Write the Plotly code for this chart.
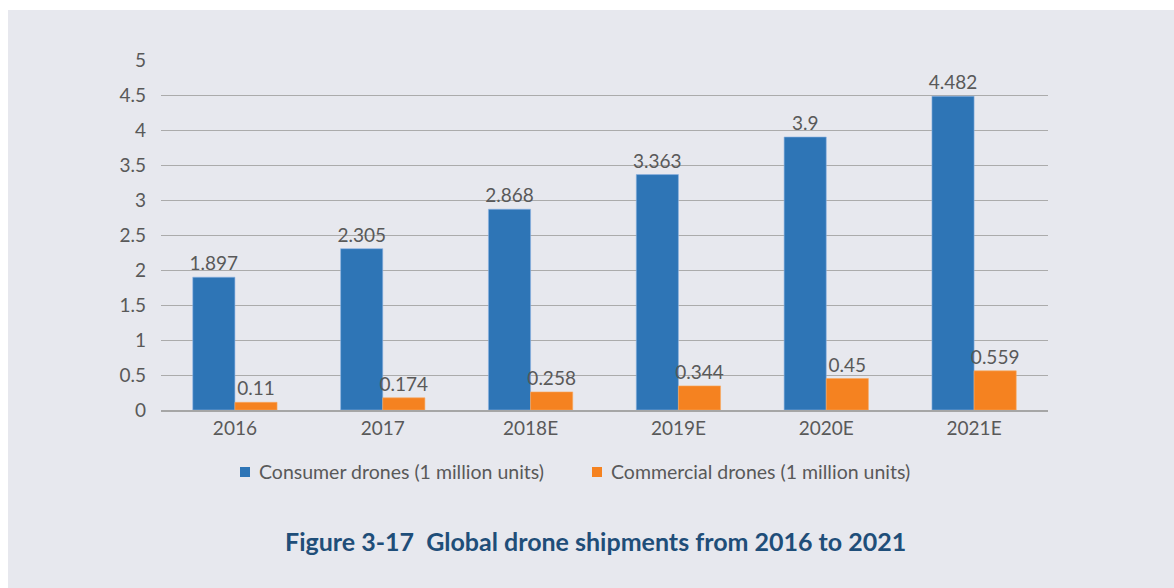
import plotly.graph_objects as go

# Shipment data, million units
years = ["2016", "2017", "2018E", "2019E", "2020E", "2021E"]
consumer = [1.897, 2.305, 2.868, 3.363, 3.9, 4.482]
commercial = [0.11, 0.174, 0.258, 0.344, 0.45, 0.559]
y_ticks = [0, 0.5, 1, 1.5, 2, 2.5, 3, 3.5, 4, 4.5, 5]
series_names = ["Consumer drones (1 million units)", "Commercial drones (1 million units)"]
series_colors = ["#2E75B6", "#F58220"]

W, H = 1174, 588
L, R, T, B = 161, 126, 60, 178
pw, ph = W - L - R, H - T - B

FONT = "Lato"
TEXT = "#595959"
BG = "#E7E8EE"
FS = 19


def px_x(x):
    return (x - L) / pw


def px_y(y):
    return (H - B - y) / ph


fig = go.Figure()
for vals, name, color, edge in [
    (consumer, series_names[0], series_colors[0], "#8DB4E2"),
    (commercial, series_names[1], series_colors[1], "#F8A860"),
]:
    fig.add_trace(go.Bar(
        x=years, y=vals, name=name,
        marker=dict(color=color, line=dict(color=edge, width=0.6)),
        text=[f"{v:g}" for v in vals], textposition="outside",
        constraintext="none",
        textfont=dict(family=FONT, size=FS, color=TEXT), cliponaxis=False,
    ))

# Panel background with a thin white strip on the top and left edges
fig.add_shape(type="rect", xref="paper", yref="paper", layer="below",
              x0=px_x(8), x1=px_x(W) + 0.01, y0=px_y(H) - 0.01, y1=px_y(10),
              fillcolor=BG, line=dict(width=0))

# Legend row: colour swatch followed by the series name
legend_y = 472
for name, color, sq_left, txt_left in [
    (series_names[0], series_colors[0], 240, 257),
    (series_names[1], series_colors[1], 592, 609),
]:
    fig.add_shape(type="rect", xref="paper", yref="paper",
                  x0=px_x(sq_left), x1=px_x(sq_left + 10),
                  y0=px_y(legend_y + 5), y1=px_y(legend_y - 5),
                  fillcolor=color, line=dict(width=0))
    fig.add_annotation(text=name, xref="paper", yref="paper",
                       x=px_x(txt_left), y=px_y(legend_y),
                       xanchor="left", yanchor="middle", showarrow=False,
                       font=dict(family=FONT, size=19.5, color=TEXT))

fig.add_annotation(
    text="<b>Figure 3-17  Global drone shipments from 2016 to 2021</b>",
    xref="paper", yref="paper", x=px_x(595), y=px_y(541),
    xanchor="center", yanchor="middle", showarrow=False,
    font=dict(family=FONT, size=25, color="#1F4E79"),
)

fig.update_layout(
    width=W, height=H,
    margin=dict(l=L, r=R, t=T, b=B, pad=0),
    paper_bgcolor="white", plot_bgcolor=BG,
    barmode="group", bargap=0.43, bargroupgap=0,
    font=dict(family=FONT, size=FS, color=TEXT),
    showlegend=False,
    xaxis=dict(showgrid=False, showline=True, linecolor="#A6A6A6", linewidth=2,
               ticks="", tickfont=dict(family=FONT, size=FS, color=TEXT)),
    yaxis=dict(range=[0, 5], tickvals=y_ticks, ticktext=[f"{v:g}" for v in y_ticks],
               showgrid=True, gridcolor="#ABABAB", gridwidth=1,
               zeroline=False, showline=False, ticks="",
               ticklabelstandoff=14,
               tickfont=dict(family=FONT, size=FS, color=TEXT)),
)

fig.write_html("out.html")
